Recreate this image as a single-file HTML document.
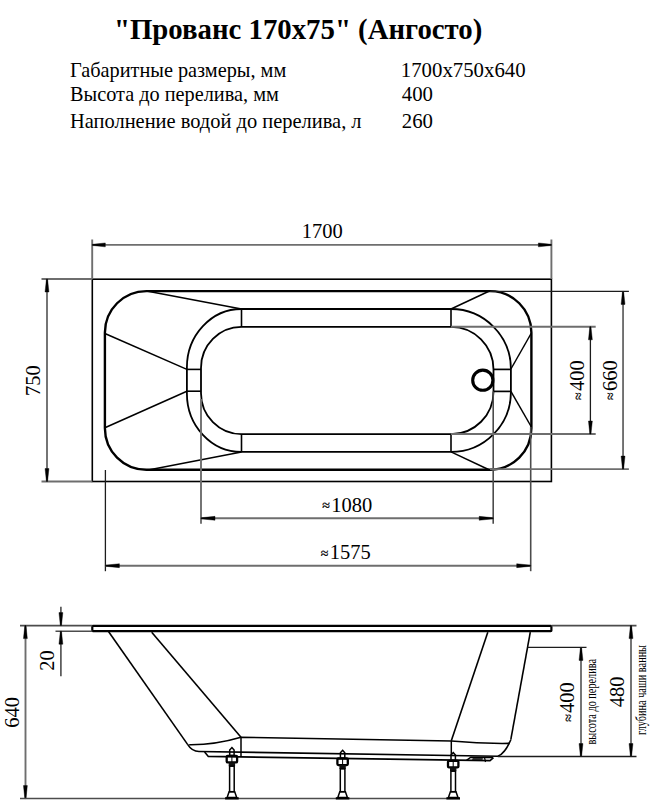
<!DOCTYPE html>
<html><head><meta charset="utf-8"><style>
html,body{margin:0;padding:0;background:#fff;}
body{width:650px;height:800px;position:relative;overflow:hidden;font-family:"Liberation Serif",serif;color:#000;}
.t{position:absolute;white-space:nowrap;line-height:1;}
</style></head><body>
<div class="t" style="left:113.9px;top:15px;font-size:28.8px;font-weight:bold;">"Прованс 170х75" (Ангосто)</div>
<div class="t" style="left:70px;top:59.5px;font-size:20.3px;">Габаритные размеры, мм</div>
<div class="t" style="left:70px;top:83.5px;font-size:20.3px;">Высота до перелива, мм</div>
<div class="t" style="left:70px;top:110.6px;font-size:20.45px;">Наполнение водой до перелива, л</div>
<div class="t" style="left:400.8px;top:59.5px;font-size:20.8px;">1700х750х640</div>
<div class="t" style="left:401.8px;top:84px;font-size:20.8px;">400</div>
<div class="t" style="left:401.8px;top:111px;font-size:20.8px;">260</div>
<svg style="position:absolute;left:0;top:0" width="650" height="800" viewBox="0 0 650 800">
<rect x="92.3" y="279.2" width="459.1" height="202.3" fill="none" stroke="#000" stroke-width="1.6"/>
<path d="M146.4,291.1 L489.9,291.1 A41.5,41.5 0 0 1 531.4,332.6 L531.4,428.3 A41.5,41.5 0 0 1 489.9,469.8 L146.4,469.8 A41.5,41.5 0 0 1 104.9,428.3 L104.9,332.6 A41.5,41.5 0 0 1 146.4,291.1 Z" stroke="#000" stroke-width="2.4" fill="none" />
<path d="M241.5,309.0 L451.0,309.0 A59.89999999999998,60.0 0 0 1 510.9,369.0 L510.9,391.9 A59.89999999999998,60.0 0 0 1 451.0,451.9 L241.5,451.9 A54.599999999999994,58.5 0 0 1 186.9,393.4 L186.9,367.5 A54.599999999999994,58.5 0 0 1 241.5,309.0 Z" stroke="#000" stroke-width="1.8" fill="none" />
<path d="M241.5,326.9 L451.0,326.9 A42.5,42.5 0 0 1 493.5,369.4 L493.5,391.7 A42.5,42.5 0 0 1 451.0,434.2 L241.5,434.2 A40.5,41 0 0 1 201.0,393.2 L201.0,367.9 A40.5,41 0 0 1 241.5,326.9 Z" stroke="#000" stroke-width="1.8" fill="none" />
<line x1="241.5" y1="309.0" x2="241.5" y2="326.9" stroke="#000" stroke-width="1.6"/>
<line x1="451.0" y1="309.0" x2="451.0" y2="326.9" stroke="#000" stroke-width="1.6"/>
<line x1="241.5" y1="434.2" x2="241.5" y2="451.9" stroke="#000" stroke-width="1.6"/>
<line x1="451.0" y1="434.2" x2="451.0" y2="451.9" stroke="#000" stroke-width="1.6"/>
<line x1="186.9" y1="369.4" x2="201.0" y2="369.4" stroke="#000" stroke-width="1.6"/>
<line x1="186.9" y1="391.2" x2="201.0" y2="391.2" stroke="#000" stroke-width="1.6"/>
<line x1="493.5" y1="369.4" x2="510.9" y2="369.4" stroke="#000" stroke-width="1.7"/>
<line x1="493.5" y1="391.4" x2="510.9" y2="391.4" stroke="#000" stroke-width="1.7"/>
<line x1="147.9" y1="291.3" x2="241.5" y2="309.0" stroke="#000" stroke-width="1.5"/>
<line x1="104.9" y1="333.5" x2="186.9" y2="369.4" stroke="#000" stroke-width="1.5"/>
<line x1="104.9" y1="427.7" x2="186.9" y2="391.2" stroke="#000" stroke-width="1.5"/>
<line x1="149.6" y1="469.8" x2="241.5" y2="451.9" stroke="#000" stroke-width="1.5"/>
<line x1="488.9" y1="291.3" x2="451.0" y2="309.0" stroke="#000" stroke-width="1.5"/>
<line x1="531.4" y1="333.0" x2="510.9" y2="369.0" stroke="#000" stroke-width="1.5"/>
<line x1="531.4" y1="427.0" x2="510.9" y2="391.4" stroke="#000" stroke-width="1.5"/>
<line x1="489.0" y1="469.8" x2="451.0" y2="451.9" stroke="#000" stroke-width="1.5"/>
<circle cx="482.8" cy="380.2" r="10.1" fill="none" stroke="#000" stroke-width="3.1"/>
<line x1="92.2" y1="239.5" x2="92.2" y2="279" stroke="#6e6e6e" stroke-width="1.9"/>
<line x1="551.4" y1="239.5" x2="551.4" y2="279" stroke="#6e6e6e" stroke-width="1.9"/>
<line x1="92.2" y1="244.9" x2="551.4" y2="244.9" stroke="#6e6e6e" stroke-width="1.9"/>
<polygon points="92.30,244.35 105.30,242.95 105.30,246.85 92.30,245.45" fill="#000" stroke="#000" stroke-width="0.4"/>
<polygon points="551.40,245.45 538.40,246.85 538.40,242.95 551.40,244.35" fill="#000" stroke="#000" stroke-width="0.4"/>
<text x="0" y="0" font-family="Liberation Serif" font-size="20.5" font-weight="normal" text-anchor="middle" transform="translate(322.3 238.2)" >1700</text>
<line x1="41.5" y1="279.0" x2="92.3" y2="279.0" stroke="#6e6e6e" stroke-width="1.9"/>
<line x1="41.5" y1="481.5" x2="92.3" y2="481.5" stroke="#6e6e6e" stroke-width="1.9"/>
<line x1="47.0" y1="279" x2="47.0" y2="481.5" stroke="#6e6e6e" stroke-width="1.9"/>
<polygon points="47.55,279.00 48.95,292.00 45.05,292.00 46.45,279.00" fill="#000" stroke="#000" stroke-width="0.4"/>
<polygon points="46.45,481.50 45.05,468.50 48.95,468.50 47.55,481.50" fill="#000" stroke="#000" stroke-width="0.4"/>
<text x="0" y="0" font-family="Liberation Serif" font-size="20.5" font-weight="normal" text-anchor="middle" transform="translate(40 380.6) rotate(-90)" >750</text>
<line x1="201" y1="399" x2="201" y2="523.8" stroke="#6e6e6e" stroke-width="1.9"/>
<line x1="493.2" y1="391.4" x2="493.2" y2="523.8" stroke="#4c4c4c" stroke-width="1.6"/>
<line x1="201" y1="518.3" x2="493.2" y2="518.3" stroke="#6e6e6e" stroke-width="1.9"/>
<polygon points="201.00,517.75 215.00,516.35 215.00,520.25 201.00,518.85" fill="#000" stroke="#000" stroke-width="0.4"/>
<polygon points="493.20,518.85 479.20,520.25 479.20,516.35 493.20,517.75" fill="#000" stroke="#000" stroke-width="0.4"/>
<text x="0" y="0" font-family="Liberation Serif" font-size="20.5" font-weight="normal" text-anchor="start" transform="translate(322.2 511.5)" ><tspan font-size="14" dy="-1.2" stroke="#000" stroke-width="0.25">≈</tspan><tspan dy="1.5" dx="1.3">1080</tspan></text>
<line x1="105.4" y1="470" x2="105.4" y2="571.2" stroke="#1c1c1c" stroke-width="1.3"/>
<line x1="530.7" y1="427" x2="530.7" y2="571.2" stroke="#4c4c4c" stroke-width="1.6"/>
<line x1="105.4" y1="565.7" x2="530.7" y2="565.7" stroke="#6e6e6e" stroke-width="1.9"/>
<polygon points="105.40,565.15 119.40,563.75 119.40,567.65 105.40,566.25" fill="#000" stroke="#000" stroke-width="0.4"/>
<polygon points="530.70,566.25 516.70,567.65 516.70,563.75 530.70,565.15" fill="#000" stroke="#000" stroke-width="0.4"/>
<text x="0" y="0" font-family="Liberation Serif" font-size="20.5" font-weight="normal" text-anchor="start" transform="translate(320.8 559)" ><tspan font-size="14" dy="-1.2" stroke="#000" stroke-width="0.25">≈</tspan><tspan dy="1.5" dx="1.3">1575</tspan></text>
<line x1="451" y1="326.8" x2="595.7" y2="326.8" stroke="#6e6e6e" stroke-width="1.9"/>
<line x1="451" y1="434.0" x2="595.7" y2="434.0" stroke="#6e6e6e" stroke-width="1.9"/>
<line x1="590.4" y1="326.8" x2="590.4" y2="434.0" stroke="#1c1c1c" stroke-width="1.3"/>
<polygon points="590.95,326.80 592.35,339.80 588.45,339.80 589.85,326.80" fill="#000" stroke="#000" stroke-width="0.4"/>
<polygon points="589.85,434.00 588.45,421.00 592.35,421.00 590.95,434.00" fill="#000" stroke="#000" stroke-width="0.4"/>
<text x="0" y="0" font-family="Liberation Serif" font-size="20.5" font-weight="normal" text-anchor="middle" transform="translate(583.9 380.2) rotate(-90)" ><tspan font-size="14" dy="-1.2" stroke="#000" stroke-width="0.25">≈</tspan><tspan dy="1.5" dx="1.3">400</tspan></text>
<line x1="490" y1="291.4" x2="628.9" y2="291.4" stroke="#1c1c1c" stroke-width="1.3"/>
<line x1="490" y1="469.1" x2="628.9" y2="469.1" stroke="#6e6e6e" stroke-width="1.9"/>
<line x1="623.05" y1="291.4" x2="623.05" y2="469.1" stroke="#6e6e6e" stroke-width="1.9"/>
<polygon points="623.60,291.40 625.00,304.40 621.10,304.40 622.50,291.40" fill="#000" stroke="#000" stroke-width="0.4"/>
<polygon points="622.50,469.10 621.10,456.10 625.00,456.10 623.60,469.10" fill="#000" stroke="#000" stroke-width="0.4"/>
<text x="0" y="0" font-family="Liberation Serif" font-size="20.5" font-weight="normal" text-anchor="middle" transform="translate(616.2 380.2) rotate(-90)" ><tspan font-size="14" dy="-1.2" stroke="#000" stroke-width="0.25">≈</tspan><tspan dy="1.5" dx="1.3">660</tspan></text>
<rect x="92.3" y="625.9" width="459.1" height="5.3" rx="0.6" fill="none" stroke="#000" stroke-width="2.2"/>
<line x1="20" y1="625.6" x2="92.3" y2="625.6" stroke="#4c4c4c" stroke-width="1.6"/>
<line x1="551.4" y1="625.6" x2="636.5" y2="625.6" stroke="#4c4c4c" stroke-width="1.6"/>
<line x1="55.5" y1="631.3" x2="92.3" y2="631.3" stroke="#4c4c4c" stroke-width="1.6"/>
<line x1="25.5" y1="625.6" x2="25.5" y2="798.6" stroke="#6e6e6e" stroke-width="1.9"/>
<polygon points="25.95,625.60 27.35,638.60 23.45,638.60 24.85,625.60" fill="#000" stroke="#000" stroke-width="0.4"/>
<polygon points="24.85,798.60 23.45,785.60 27.35,785.60 25.95,798.60" fill="#000" stroke="#000" stroke-width="0.4"/>
<text x="0" y="0" font-family="Liberation Serif" font-size="20.5" font-weight="normal" text-anchor="middle" transform="translate(18.6 712.4) rotate(-90)" >640</text>
<line x1="20" y1="798.5" x2="460" y2="798.5" stroke="#4c4c4c" stroke-width="1.6"/>
<line x1="60.9" y1="606.8" x2="60.9" y2="625.6" stroke="#4c4c4c" stroke-width="1.6"/>
<line x1="60.9" y1="631.3" x2="60.9" y2="676.2" stroke="#4c4c4c" stroke-width="1.6"/>
<polygon points="60.35,625.60 58.95,612.60 62.85,612.60 61.45,625.60" fill="#000" stroke="#000" stroke-width="0.4"/>
<polygon points="61.45,631.20 62.85,644.20 58.95,644.20 60.35,631.20" fill="#000" stroke="#000" stroke-width="0.4"/>
<text x="0" y="0" font-family="Liberation Serif" font-size="20.5" font-weight="normal" text-anchor="middle" transform="translate(54.2 660.5) rotate(-90)" >20</text>
<line x1="108.5" y1="631.5" x2="187.4" y2="744.1" stroke="#000" stroke-width="1.6"/>
<line x1="151.7" y1="632.2" x2="241" y2="737.3" stroke="#000" stroke-width="1.6"/>
<line x1="487.8" y1="632.2" x2="451.3" y2="740.8" stroke="#000" stroke-width="1.6"/>
<line x1="530.3" y1="632.2" x2="510.8" y2="739.7" stroke="#000" stroke-width="1.6"/>
<path d="M187.4,744.1 Q192,751.5 199,751.5 L497.8,756.3 Q505,753.5 510.8,739.7" stroke="#000" stroke-width="1.6" fill="none" />
<path d="M189.2,744.7 Q215,745 241,737.3 L451.3,741 Q480,743.8 509.5,743.4" stroke="#000" stroke-width="1.6" fill="none" />
<line x1="241" y1="737.3" x2="241" y2="756.4" stroke="#000" stroke-width="1.5"/>
<line x1="451.3" y1="741" x2="451.3" y2="755.9" stroke="#000" stroke-width="1.5"/>
<path d="M204.6,752 L208.3,756.4 L490,760.6 L493.5,757.6" stroke="#000" stroke-width="1.6" fill="none" />
<path d="M466.5,760.3 L470.8,757.2 L493,757.4" stroke="#000" stroke-width="1.5" fill="none" />
<polygon points="473,757.2 483,757.3 482.5,760.2 472,760.1" fill="#000" fill-opacity="0.75"/>
<line x1="484.5" y1="757.5" x2="485.5" y2="762" stroke="#000" stroke-width="1.2"/>
<path d="M231.9,747.6 L234.1,750.1 L234.1,755.6 L229.70000000000002,755.6 L229.70000000000002,750.1 Z" fill="none" stroke="#000" stroke-width="1.5"/>
<rect x="226.70000000000002" y="755.8000000000001" width="10.4" height="6.6" rx="1" fill="none" stroke="#000" stroke-width="2.3"/>
<line x1="231.9" y1="755.6" x2="231.9" y2="762.6" stroke="#000" stroke-width="1"/>
<rect x="228.70000000000002" y="762.4" width="6.4" height="3.8" fill="#111"/>
<rect x="229.6" y="766.2" width="4.6" height="25.50000000000002" fill="none" stroke="#000" stroke-width="1.5"/>
<path d="M229.1,791.7 L234.70000000000002,791.7 L236.70000000000002,797.6 L227.1,797.6 Z" fill="none" stroke="#000" stroke-width="1.5"/>
<rect x="225.1" y="797.2" width="13.6" height="2.3" fill="#000"/>
<path d="M342.6,750.3 L344.8,752.8 L344.8,758.3 L340.40000000000003,758.3 L340.40000000000003,752.8 Z" fill="none" stroke="#000" stroke-width="1.5"/>
<rect x="337.40000000000003" y="758.5" width="10.4" height="6.6" rx="1" fill="none" stroke="#000" stroke-width="2.3"/>
<line x1="342.6" y1="758.3" x2="342.6" y2="765.3" stroke="#000" stroke-width="1"/>
<rect x="339.40000000000003" y="765.0999999999999" width="6.4" height="3.8" fill="#111"/>
<rect x="340.3" y="768.9" width="4.6" height="22.80000000000009" fill="none" stroke="#000" stroke-width="1.5"/>
<path d="M339.8,791.7 L345.40000000000003,791.7 L347.40000000000003,797.6 L337.8,797.6 Z" fill="none" stroke="#000" stroke-width="1.5"/>
<rect x="335.8" y="797.2" width="13.6" height="2.3" fill="#000"/>
<path d="M453.2,752.6 L455.4,755.1 L455.4,760.6 L451.0,760.6 L451.0,755.1 Z" fill="none" stroke="#000" stroke-width="1.5"/>
<rect x="448.0" y="760.8000000000001" width="10.4" height="6.6" rx="1" fill="none" stroke="#000" stroke-width="2.3"/>
<line x1="453.2" y1="760.6" x2="453.2" y2="767.6" stroke="#000" stroke-width="1"/>
<rect x="450.0" y="767.4" width="6.4" height="3.8" fill="#111"/>
<rect x="450.9" y="771.2" width="4.6" height="20.50000000000002" fill="none" stroke="#000" stroke-width="1.5"/>
<path d="M450.4,791.7 L456.0,791.7 L458.0,797.6 L448.4,797.6 Z" fill="none" stroke="#000" stroke-width="1.5"/>
<rect x="446.4" y="797.2" width="13.6" height="2.3" fill="#000"/>
<line x1="527.7" y1="647.4" x2="586.5" y2="647.4" stroke="#1c1c1c" stroke-width="1.3"/>
<line x1="497.8" y1="756.5" x2="636.5" y2="756.5" stroke="#1c1c1c" stroke-width="1.3"/>
<line x1="581.0" y1="647.4" x2="581.0" y2="756.5" stroke="#6e6e6e" stroke-width="1.9"/>
<polygon points="581.55,647.40 582.95,660.40 579.05,660.40 580.45,647.40" fill="#000" stroke="#000" stroke-width="0.4"/>
<polygon points="580.45,756.50 579.05,743.50 582.95,743.50 581.55,756.50" fill="#000" stroke="#000" stroke-width="0.4"/>
<line x1="631" y1="625.6" x2="631" y2="756.5" stroke="#6e6e6e" stroke-width="1.9"/>
<polygon points="631.55,625.60 632.95,638.60 629.05,638.60 630.45,625.60" fill="#000" stroke="#000" stroke-width="0.4"/>
<polygon points="630.45,756.50 629.05,743.50 632.95,743.50 631.55,756.50" fill="#000" stroke="#000" stroke-width="0.4"/>
<text x="0" y="0" font-family="Liberation Serif" font-size="20.5" font-weight="normal" text-anchor="middle" transform="translate(574.0 702) rotate(-90)" ><tspan font-size="14" dy="-1.2" stroke="#000" stroke-width="0.25">≈</tspan><tspan dy="1.5" dx="1.3">400</tspan></text>
<text x="0" y="0" font-family="Liberation Serif" font-size="14" font-weight="normal" text-anchor="middle" transform="translate(595.6 701.8) rotate(-90) scale(0.735 1)" >высота до перелива</text>
<text x="0" y="0" font-family="Liberation Serif" font-size="20.5" font-weight="normal" text-anchor="middle" transform="translate(623.8 691.9) rotate(-90)" >480</text>
<text x="0" y="0" font-family="Liberation Serif" font-size="14" font-weight="normal" text-anchor="middle" transform="translate(646.3 690.0) rotate(-90) scale(0.735 1)" >глубина чаши ванны</text>
</svg>
</body></html>
